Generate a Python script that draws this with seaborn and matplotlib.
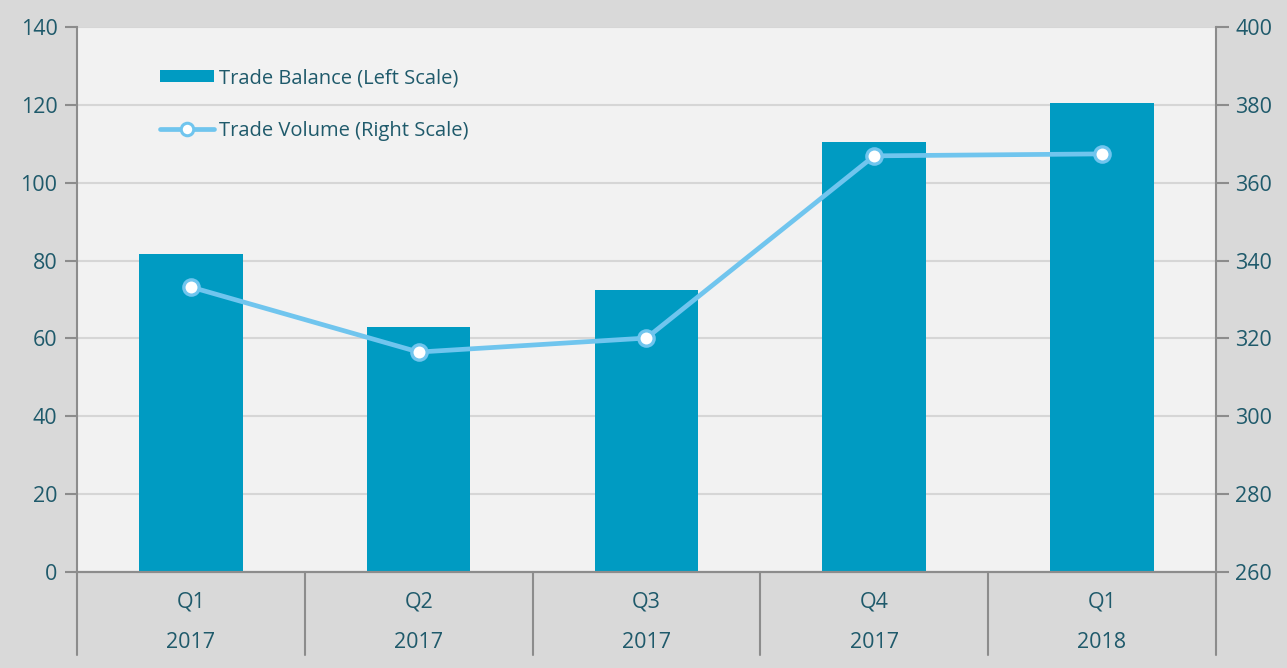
import pandas as pd
import seaborn as sns
import matplotlib.pyplot as plt
from matplotlib.patches import Patch
from matplotlib.lines import Line2D
from matplotlib.transforms import blended_transform_factory

# values
quarters = ["Q1", "Q2", "Q3", "Q4", "Q1"]
years = ["2017", "2017", "2017", "2017", "2018"]
trade_balance = [81.7, 62.9, 72.4, 110.5, 120.5]
trade_volume = [333.2, 316.5, 320.1, 366.9, 367.4]

periods = [q + " " + y for q, y in zip(quarters, years)]
df = pd.DataFrame({"period": periods, "balance": trade_balance, "volume": trade_volume})

text_col = "#1f5a6b"
bar_col = "#009bc2"
line_col = "#70c5ee"
spine_col = "#8c8c8c"

sns.set_style("white")
plt.rcParams["font.family"] = ["Open Sans", "DejaVu Sans"]

fig = plt.figure(figsize=(12.87, 6.68), dpi=100, facecolor="#d9d9d9")
ax = fig.add_axes([0.0598, 0.1437, 0.885, 0.8159])
ax.set_facecolor("#f2f2f2")

sns.barplot(data=df, x="period", y="balance", color=bar_col, width=0.455,
            saturation=1, ax=ax, zorder=2, edgecolor="none", linewidth=0)
ax.set_ylim(0, 140)
ax.set_yticks(range(0, 141, 20))
ax.yaxis.grid(True, color="#d6d6d6", linewidth=1.5, zorder=0)
ax.set_axisbelow(True)
ax.set_xlim(-0.5, 4.5)

ax2 = ax.twinx()
sns.lineplot(data=df, x="period", y="volume", ax=ax2, color=line_col, linewidth=3.4,
             marker="o", markersize=11, markerfacecolor="white",
             markeredgecolor=line_col, markeredgewidth=2.4, sort=False)
ax2.set_ylim(260, 400)
ax2.set_yticks(range(260, 401, 20))

for a in (ax, ax2):
    a.set_xlabel("")
    a.set_ylabel("")
    for s in a.spines.values():
        s.set_color(spine_col)
        s.set_linewidth(1.5)
    a.spines["top"].set_visible(False)
    a.tick_params(axis="y", colors=spine_col, labelcolor=text_col, labelsize=15.5,
                  length=9, width=1.5, direction="out")

ax.tick_params(axis="y", pad=5)
ax2.tick_params(axis="y", pad=5)
ax.spines["right"].set_visible(False)
ax2.spines["left"].set_visible(False)

# two-row category labels
ax.set_xticks(range(len(periods)))
ax.set_xticklabels([q + "\n" + y for q, y in zip(quarters, years)],
                   linespacing=2.2, color=text_col, fontsize=15.5)
ax.tick_params(axis="x", length=0, pad=14)

# separators between categories under the axis
trans = blended_transform_factory(ax.transData, ax.transAxes)
for xpos in [i - 0.5 for i in range(len(periods) + 1)]:
    ax.add_line(Line2D([xpos, xpos], [0, -0.153], transform=trans, color=spine_col,
                       linewidth=1.5, clip_on=False))

handles = [
    Patch(facecolor=bar_col, edgecolor="none"),
    Line2D([], [], color=line_col, linewidth=3.4, marker="o", markersize=9,
           markerfacecolor="white", markeredgecolor=line_col, markeredgewidth=2.2),
]
labels = ["Trade Balance (Left Scale)", "Trade Volume (Right Scale)"]
leg = ax2.legend(handles, labels, loc="upper left", bbox_to_anchor=(0.057, 0.957),
                 frameon=False, fontsize=14.5, handlelength=2.7, handleheight=0.55,
                 handletextpad=0.25, labelspacing=1.6, labelcolor=text_col)

plt.savefig("out.png", dpi=100, facecolor=fig.get_facecolor())
plt.close()
